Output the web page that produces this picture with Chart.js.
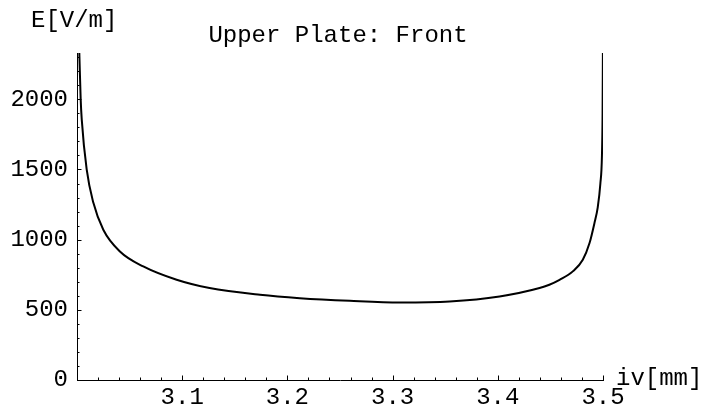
<!DOCTYPE html>
<html>
<head>
<meta charset="utf-8">
<script src="https://cdn.jsdelivr.net/npm/chart.js@4.4.0/dist/chart.umd.min.js"></script>
<style>
  html, body { margin: 0; padding: 0; background: #fff; }
</style>
</head>
<body>
<canvas id="plot" width="702" height="410"></canvas>
<script>
// Values
const ivMm = [3.0022, 3.0035, 3.0045, 3.0092, 3.0155, 3.0250, 3.0408, 3.0630, 3.0947, 3.1260,
  3.1740, 3.2118, 3.2593, 3.3070, 3.3542, 3.4017, 3.4397, 3.4490, 3.4587, 3.4713,
  3.4808, 3.4872, 3.4919, 3.4950, 3.4975, 3.4990, 3.4996, 3.4999];
const fieldVm = [2330, 2000, 1857, 1500, 1264, 1071, 916, 809, 714, 655,
  607, 583, 564, 552, 559, 595, 655, 679, 714, 774,
  857, 976, 1119, 1230, 1400, 1600, 1900, 2330];

const xTickValues = [3.1, 3.2, 3.3, 3.4, 3.5];
const yTickValues = [0, 500, 1000, 1500, 2000];

const xMin = 3.0, xMax = 3.5, xMinorStep = 0.02;
const yMin = 0, yMax = 2330, yMinorStep = 100;

const titleText = 'Upper Plate: Front';
const yAxisText = 'E[V/m]';
const xAxisText = 'iv[mm]';

const monoFont = '"Liberation Mono", "DejaVu Sans Mono", monospace';

// inward tick marks like the original plot
const tickMarks = {
  id: 'tickMarks',
  afterDraw(chart) {
    const { ctx, chartArea, scales: { x, y } } = chart;
    ctx.save();
    ctx.strokeStyle = '#000';
    ctx.lineWidth = 1;
    ctx.beginPath();
    const yCount = Math.floor((yMax - yMin) / yMinorStep + 1e-6);
    for (let k = 0; k <= yCount; k++) {
      const v = yMin + k * yMinorStep;
      const py = Math.round(y.getPixelForValue(v)) + 0.5;
      const len = (k % 5 === 0) ? 4.5 : 2.5;
      ctx.moveTo(chartArea.left, py);
      ctx.lineTo(chartArea.left + len, py);
    }
    const xCount = Math.round((xMax - xMin) / xMinorStep);
    for (let k = 1; k <= xCount; k++) {
      const v = xMin + k * xMinorStep;
      const px = Math.round(x.getPixelForValue(v)) + 0.5;
      const len = (k % 5 === 0) ? 4.5 : 2.5;
      ctx.moveTo(px, chartArea.bottom);
      ctx.lineTo(px, chartArea.bottom - len);
    }
    ctx.stroke();
    ctx.restore();
  }
};

const labels = {
  id: 'labels',
  afterDraw(chart) {
    const { ctx, chartArea } = chart;
    ctx.save();
    ctx.fillStyle = '#000';
    ctx.font = '24px ' + monoFont;
    ctx.textBaseline = 'alphabetic';
    ctx.textAlign = 'left';
    ctx.fillText(yAxisText, 31, 27);
    ctx.fillText(xAxisText, chartArea.right + 13, 385);
    ctx.textAlign = 'center';
    ctx.fillText(titleText, (chartArea.left + chartArea.right) / 2 - 2, 42);
    ctx.restore();
  }
};

new Chart(document.getElementById('plot'), {
  type: 'line',
  data: {
    datasets: [{
      data: ivMm.map((v, i) => ({ x: v, y: fieldVm[i] })),
      borderColor: '#000',
      borderWidth: 2,
      pointRadius: 0,
      cubicInterpolationMode: 'monotone',
      fill: false
    }]
  },
  options: {
    responsive: false,
    animation: false,
    layout: { padding: { top: 53, right: 99, left: 0, bottom: 0 } },
    plugins: { legend: { display: false }, title: { display: false }, tooltip: { enabled: false } },
    scales: {
      x: {
        type: 'linear',
        min: xMin,
        max: xMax,
        afterFit: (s) => { s.height = 30; },
        afterBuildTicks: (s) => { s.ticks = xTickValues.map((v) => ({ value: v })); },
        grid: { drawOnChartArea: false, drawTicks: false },
        border: { display: true, color: '#000', width: 1 },
        ticks: {
          padding: 3,
          color: '#000',
          font: { family: monoFont, size: 24 },
          maxRotation: 0,
          autoSkip: false,
          callback: (v) => v.toFixed(1)
        }
      },
      y: {
        type: 'linear',
        min: yMin,
        max: yMax,
        afterFit: (s) => { s.width = 77; },
        afterBuildTicks: (s) => { s.ticks = yTickValues.map((v) => ({ value: v })); },
        grid: { drawOnChartArea: false, drawTicks: false },
        border: { display: true, color: '#000', width: 1 },
        ticks: {
          padding: 9,
          color: '#000',
          font: { family: monoFont, size: 24 },
          autoSkip: false,
          callback: (v) => String(v)
        }
      }
    }
  },
  plugins: [tickMarks, labels]
});
</script>
</body>
</html>
